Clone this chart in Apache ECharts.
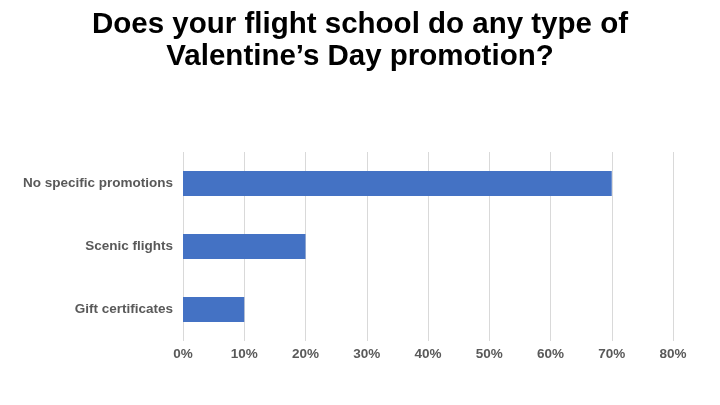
<!DOCTYPE html>
<html>
<head>
<meta charset="utf-8">
<script src="https://cdn.jsdelivr.net/npm/echarts@6/dist/echarts.min.js"></script>
<style>
html,body{margin:0;padding:0;background:#fff;}
#chart{width:720px;height:405px;}
</style>
</head>
<body>
<div id="chart"></div>
<script>
const titleText = "Does your flight school do any type of\nValentine\u2019s Day promotion?";
const categories = ["No specific promotions", "Scenic flights", "Gift certificates"];
const values = [70, 20, 10];
const xTicks = { min: 0, max: 80, interval: 10 };

const chart = echarts.init(document.getElementById('chart'));
chart.setOption({
  animation: false,
  backgroundColor: '#ffffff',
  title: {
    text: titleText,
    left: 'center',
    top: 4,
    textStyle: {
      fontFamily: 'Liberation Sans, Arial, sans-serif',
      fontWeight: 'bold',
      fontSize: 29.5,
      lineHeight: 32,
      color: '#000000'
    }
  },
  grid: { left: 183, right: 47, top: 152, height: 189, containLabel: false },
  xAxis: {
    type: 'value',
    min: xTicks.min, max: xTicks.max, interval: xTicks.interval,
    axisLine: { show: false },
    axisTick: { show: false },
    splitLine: { show: true, lineStyle: { color: '#d9d9d9', width: 1 } },
    axisLabel: {
      formatter: v => v + '%',
      fontFamily: 'Liberation Sans, Arial, sans-serif',
      fontWeight: 'bold', fontSize: 13.5, color: '#595959', margin: 6
    }
  },
  yAxis: {
    type: 'category',
    data: categories,
    inverse: true,
    axisLine: { show: false },
    axisTick: { show: false },
    axisLabel: {
      fontFamily: 'Liberation Sans, Arial, sans-serif',
      fontWeight: 'bold', fontSize: 13.5, color: '#595959', margin: 10
    }
  },
  series: [{
    type: 'bar',
    data: values,
    barWidth: 25,
    itemStyle: { color: '#4472c4' }
  }]
});
</script>
</body>
</html>
